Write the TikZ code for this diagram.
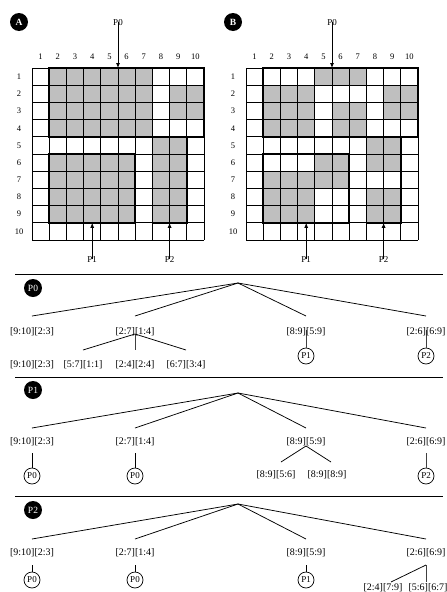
\documentclass[tikz,border=0pt]{standalone}
\usepackage{fontspec}
\setmainfont{Liberation Serif}
\usetikzlibrary{arrows.meta,calc}
\definecolor{cellgrey}{RGB}{191,191,191}
\tikzset{
  thinline/.style={line width=0.7pt},
  thickline/.style={line width=1.6pt},
  cellfill/.style={fill=cellgrey},
  gridlab/.style={font=\fontsize{8.5}{9}\selectfont, inner sep=0pt},
  plab/.style={font=\fontsize{9}{10}\selectfont, inner sep=0pt},
  parrow/.style={line width=0.8pt, -{Latex[length=5pt,width=4pt]}},
  badge/.style={circle, fill=black, text=white, minimum size=18pt, inner sep=0pt, font=\fontsize{9.5}{10}\selectfont},
  seprule/.style={line width=1pt},
  branch/.style={line width=0.75pt},
  stem/.style={line width=0.9pt, black!75},
  lab/.style={font=\fontsize{10}{11}\selectfont, inner sep=0pt},
  ref/.style={circle, draw, line width=0.7pt, minimum size=16pt, inner sep=0pt, font=\fontsize{9}{10}\selectfont},
}
\begin{document}
\begin{tikzpicture}[x=1pt,y=-1pt]
\useasboundingbox (0,0) rectangle (447,592);

% ---------------- Grid A ----------------
\node[badge] (badgeA) at (19,22) {\bfseries A};
\begin{scope}[shift={(32,68)}, x=17.2pt, y=-17.2pt]
  \fill[cellfill] (1,0) rectangle (7,4);
  \fill[cellfill] (8,1) rectangle (10,3);
  \fill[cellfill] (1,5) rectangle (6,9);
  \fill[cellfill] (7,4) rectangle (9,9);
  \foreach \i in {0,...,10} {
    \draw[thinline] (\i,0) -- (\i,10);
    \draw[thinline] (0,\i) -- (10,\i);
  }
  \draw[thickline] (1,0) rectangle (10,4);
  \draw[thickline] (1,5) rectangle (6,9);
  \draw[thickline] (7,4) rectangle (9,9);
  \foreach \c in {1,...,10} {
    \node[gridlab] at (\c-0.5,-0.66) {\c};
    \node[gridlab] at (-0.75,\c-0.5) {\c};
  }
  \node[plab] (aP0) at (5,-2.62) {P0};
  \coordinate (aP0t) at (5,0);
  \draw[parrow] ($(aP0.south)+(0,-0.25)$) -- (aP0t);
  \node[plab] (aP1) at (3.5,11.16) {P1};
  \coordinate (aP1t) at (3.5,9);
  \draw[parrow] ($(aP1.north)+(0,0.15)$) -- (aP1t);
  \node[plab] (aP2) at (8,11.16) {P2};
  \coordinate (aP2t) at (8,9);
  \draw[parrow] ($(aP2.north)+(0,0.15)$) -- (aP2t);
\end{scope}

% ---------------- Grid B ----------------
\node[badge] (badgeB) at (233,22) {\bfseries B};
\begin{scope}[shift={(246,68)}, x=17.2pt, y=-17.2pt]
  \fill[cellfill] (4,0) rectangle (7,1);
  \fill[cellfill] (1,1) rectangle (4,4);
  \fill[cellfill] (8,1) rectangle (10,3);
  \fill[cellfill] (5,2) rectangle (7,4);
  \fill[cellfill] (7,4) rectangle (9,6);
  \fill[cellfill] (4,5) rectangle (6,6);
  \fill[cellfill] (1,6) rectangle (6,7);
  \fill[cellfill] (1,7) rectangle (4,9);
  \fill[cellfill] (7,7) rectangle (9,9);
  \foreach \i in {0,...,10} {
    \draw[thinline] (\i,0) -- (\i,10);
    \draw[thinline] (0,\i) -- (10,\i);
  }
  \draw[thickline] (1,0) rectangle (10,4);
  \draw[thickline] (1,5) rectangle (6,9);
  \draw[thickline] (7,4) rectangle (9,9);
  \foreach \c in {1,...,10} {
    \node[gridlab] at (\c-0.5,-0.66) {\c};
    \node[gridlab] at (-0.75,\c-0.5) {\c};
  }
  \node[plab] (bP0) at (5,-2.62) {P0};
  \coordinate (bP0t) at (5,0);
  \draw[parrow] ($(bP0.south)+(0,-0.25)$) -- (bP0t);
  \node[plab] (bP1) at (3.5,11.16) {P1};
  \coordinate (bP1t) at (3.5,9);
  \draw[parrow] ($(bP1.north)+(0,0.15)$) -- (bP1t);
  \node[plab] (bP2) at (8,11.16) {P2};
  \coordinate (bP2t) at (8,9);
  \draw[parrow] ($(bP2.north)+(0,0.15)$) -- (bP2t);
\end{scope}

% ---------------- Tree P0 ----------------
\coordinate (s0a) at (15,274); \coordinate (s0b) at (443,274);
\draw[seprule] (s0a) -- (s0b);
\node[badge] (t0badge) at (33,288) {P0};
\coordinate (t0r) at (238,283);
\coordinate (t0e1) at (32,316);
\coordinate (t0e2) at (135,316);
\coordinate (t0e3) at (306,316);
\coordinate (t0e4) at (426,316);
\draw[branch] (t0r) -- (t0e1);
\draw[branch] (t0r) -- (t0e2);
\draw[branch] (t0r) -- (t0e3);
\draw[branch] (t0r) -- (t0e4);
\node[ref] (t0c3) at (306,356) {P1};
\node[ref] (t0c4) at (426,356) {P2};
\coordinate (t0v3) at (306,330);
\coordinate (t0v4) at (426,330);
\draw[stem] (t0v3) -- (t0c3);
\draw[stem] (t0v4) -- (t0c4);
\node[lab] (t0n1) at (32,332) {[9:10][2:3]};
\node[lab] (t0n2) at (135,332) {[2:7][1:4]};
\node[lab] (t0n3) at (306,332) {[8:9][5:9]};
\node[lab] (t0n4) at (426,332) {[2:6][6:9]};
\coordinate (t0j) at (135,334);
\coordinate (t0s1) at (83,350);
\coordinate (t0s2) at (135,350);
\coordinate (t0s3) at (186,350);
\draw[branch] (t0j) -- (t0s1);
\draw[stem] (t0j) -- (t0s2);
\draw[branch] (t0j) -- (t0s3);
\node[lab] (t0m0) at (32,365) {[9:10][2:3]};
\node[lab] (t0m1) at (83,365) {[5:7][1:1]};
\node[lab] (t0m2) at (135,365) {[2:4][2:4]};
\node[lab] (t0m3) at (186,365) {[6:7][3:4]};

% ---------------- Tree P1 ----------------
\coordinate (s1a) at (15,377); \coordinate (s1b) at (443,377);
\draw[seprule] (s1a) -- (s1b);
\node[badge] (t1badge) at (33,390) {P1};
\coordinate (t1r) at (238,393);
\coordinate (t1e1) at (32,428);
\coordinate (t1e2) at (135,428);
\coordinate (t1e3) at (306,428);
\coordinate (t1e4) at (426,428);
\draw[branch] (t1r) -- (t1e1);
\draw[branch] (t1r) -- (t1e2);
\draw[branch] (t1r) -- (t1e3);
\draw[branch] (t1r) -- (t1e4);
\node[lab] (t1n1) at (32,442) {[9:10][2:3]};
\node[lab] (t1n2) at (135,442) {[2:7][1:4]};
\node[lab] (t1n3) at (306,442) {[8:9][5:9]};
\node[lab] (t1n4) at (426,442) {[2:6][6:9]};
\node[ref] (t1c1) at (32,476) {P0};
\node[ref] (t1c2) at (135,476) {P0};
\node[ref] (t1c4) at (426,476) {P2};
\coordinate (t1v1) at (32,453);
\coordinate (t1v2) at (135,453);
\coordinate (t1v4) at (426,453);
\draw[branch] (t1v1) -- (t1c1);
\draw[branch] (t1v2) -- (t1c2);
\draw[stem] (t1v4) -- (t1c4);
\coordinate (t1j) at (306,446);
\coordinate (t1s1) at (281,462);
\coordinate (t1s2) at (331,462);
\draw[branch] (t1j) -- (t1s1);
\draw[branch] (t1j) -- (t1s2);
\node[lab] (t1m1) at (276,475) {[8:9][5:6]};
\node[lab] (t1m2) at (327,475) {[8:9][8:9]};

% ---------------- Tree P2 ----------------
\coordinate (s2a) at (15,496); \coordinate (s2b) at (443,496);
\draw[seprule] (s2a) -- (s2b);
\node[badge] (t2badge) at (33,510) {P2};
\coordinate (t2r) at (238,504);
\coordinate (t2e1) at (32,539);
\coordinate (t2e2) at (135,539);
\coordinate (t2e3) at (306,539);
\coordinate (t2e4) at (426,539);
\draw[branch] (t2r) -- (t2e1);
\draw[branch] (t2r) -- (t2e2);
\draw[branch] (t2r) -- (t2e3);
\draw[branch] (t2r) -- (t2e4);
\node[lab] (t2n1) at (32,553) {[9:10][2:3]};
\node[lab] (t2n2) at (135,553) {[2:7][1:4]};
\node[lab] (t2n3) at (306,553) {[8:9][5:9]};
\node[lab] (t2n4) at (426,553) {[2:6][6:9]};
\node[ref] (t2c1) at (32,580) {P0};
\node[ref] (t2c2) at (135,580) {P0};
\node[ref] (t2c3) at (306,580) {P1};
\coordinate (t2v1) at (32,565);
\coordinate (t2v2) at (135,565);
\coordinate (t2v3) at (306,565);
\draw[branch] (t2v1) -- (t2c1);
\draw[branch] (t2v2) -- (t2c2);
\draw[branch] (t2v3) -- (t2c3);
\coordinate (t2j) at (426,565);
\coordinate (t2s1) at (391,582);
\coordinate (t2s2) at (426,582);
\draw[branch] (t2j) -- (t2s1);
\draw[stem] (t2j) -- (t2s2);
\node[lab] (t2m1) at (383,588) {[2:4][7:9]};
\node[lab] (t2m2) at (428,588) {[5:6][6:7]};
\end{tikzpicture}
\end{document}
